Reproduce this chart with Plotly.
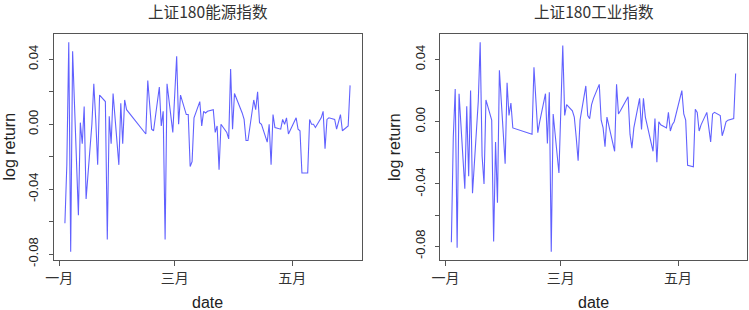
import pandas as pd
import plotly.graph_objects as go

# ---- data ----
dates = [
    "2016-01-04", "2016-01-05", "2016-01-06", "2016-01-07", "2016-01-08",
    "2016-01-11", "2016-01-12", "2016-01-13", "2016-01-14", "2016-01-15",
    "2016-01-18", "2016-01-19", "2016-01-20", "2016-01-21", "2016-01-22",
    "2016-01-25", "2016-01-26", "2016-01-27", "2016-01-28", "2016-01-29",
    "2016-02-01", "2016-02-02", "2016-02-03", "2016-02-04", "2016-02-05",
    "2016-02-15", "2016-02-16", "2016-02-17", "2016-02-18", "2016-02-19",
    "2016-02-22", "2016-02-23", "2016-02-24", "2016-02-25", "2016-02-26",
    "2016-02-29", "2016-03-01", "2016-03-02", "2016-03-03", "2016-03-04",
    "2016-03-07", "2016-03-08", "2016-03-09", "2016-03-10", "2016-03-11",
    "2016-03-14", "2016-03-15", "2016-03-16", "2016-03-17", "2016-03-18",
    "2016-03-21", "2016-03-22", "2016-03-23", "2016-03-24", "2016-03-25",
    "2016-03-28", "2016-03-29", "2016-03-30", "2016-03-31", "2016-04-01",
    "2016-04-05", "2016-04-06", "2016-04-07", "2016-04-08", "2016-04-11",
    "2016-04-12", "2016-04-13", "2016-04-14", "2016-04-15", "2016-04-18",
    "2016-04-19", "2016-04-20", "2016-04-21", "2016-04-22", "2016-04-25",
    "2016-04-26", "2016-04-27", "2016-04-28", "2016-04-29", "2016-05-03",
    "2016-05-04", "2016-05-05", "2016-05-06", "2016-05-09", "2016-05-10",
    "2016-05-11", "2016-05-12", "2016-05-13", "2016-05-16", "2016-05-17",
    "2016-05-18", "2016-05-19", "2016-05-20", "2016-05-23", "2016-05-24",
    "2016-05-25", "2016-05-26", "2016-05-27", "2016-05-30", "2016-05-31",
]

energy = [
    -0.061, -0.025, 0.0505, -0.0785, 0.045,
    -0.056, 0.001, -0.012, 0.011, -0.046,
    0.000, 0.025, 0.003, -0.025, 0.018,
    0.014, -0.071, 0.005, -0.012, 0.019,
    -0.025, 0.013, -0.012, 0.015, 0.009,
    -0.006, 0.027, 0.011, -0.003, -0.004,
    0.023, -0.001, 0.008, -0.071, 0.025,
    -0.005, 0.020, 0.042, 0.000, 0.018,
    0.006, 0.006, -0.026, -0.023, 0.004,
    0.014, -0.001, 0.008, 0.007, 0.008,
    0.009, -0.005, -0.001, -0.028, 0.000,
    -0.005, -0.009, 0.034, -0.003, 0.019,
    0.007, 0.003, -0.010, -0.010, 0.015,
    0.009, 0.020, 0.001, 0.000, -0.011,
    0.000, -0.025, 0.006, -0.002, -0.003,
    0.003, 0.000, 0.004, -0.006, 0.004,
    -0.003, -0.004, -0.030, -0.030, 0.003,
    0.000, 0.000, -0.002, 0.004, 0.008,
    -0.015, 0.003, 0.004, 0.003, -0.003,
    0.001, 0.006, -0.004, -0.001, 0.024,
]

industry = [
    -0.0775, -0.010, 0.021, -0.081, 0.018,
    -0.043, 0.010, -0.035, 0.020, -0.046,
    0.013, 0.051, -0.022, -0.040, 0.014,
    0.001, -0.077, -0.013, -0.052, 0.033,
    -0.027, 0.025, 0.004, 0.012, -0.004,
    -0.008, 0.035, 0.014, -0.007, 0.000,
    0.018, -0.014, 0.019, -0.0835, 0.005,
    -0.033, 0.012, 0.049, 0.004, 0.011,
    0.007, 0.003, -0.010, -0.025, 0.001,
    0.023, 0.004, 0.002, 0.011, 0.015,
    0.024, 0.001, -0.004, -0.016, 0.003,
    -0.012, -0.019, 0.024, 0.005, 0.007,
    0.016, -0.008, -0.017, -0.004, 0.015,
    -0.005, 0.015, 0.003, -0.002, -0.019,
    0.002, -0.026, 0.000, -0.002, -0.004,
    0.006, -0.006, -0.002, 0.000, 0.020,
    0.005, 0.001, -0.028, -0.029, 0.008,
    0.006, -0.006, -0.002, 0.006, -0.004,
    -0.013, 0.005, 0.006, 0.004, -0.009,
    -0.005, 0.000, 0.001, 0.002, 0.031,
]

titles = ["上证180能源指数", "上证180工业指数"]
month_ticks = ["2016-01-01", "2016-03-01", "2016-05-01"]
month_labels = ["一月", "三月", "五月"]
y_ticks = [-0.08, -0.06, -0.04, -0.02, 0.00, 0.02, 0.04]
y_labels = ["-0.08", "", "-0.04", "", "0.00", "", "0.04"]
x_title = "date"
y_title = "log return"

# ---- R-like axis ranges (4% extension) ----
def r_range(vals):
    lo, hi = min(vals), max(vals)
    d = (hi - lo) * 0.04
    return [lo - d, hi + d]

t = pd.to_datetime(pd.Series(dates))
span = t.max() - t.min()
x_range = [(t.min() - span * 0.04).strftime("%Y-%m-%d %H:%M:%S"),
           (t.max() + span * 0.04).strftime("%Y-%m-%d %H:%M:%S")]

W, H = 749, 310
ML, MR, MT, MB = 53, 2, 34, 50
PW = W - ML - MR
PH = H - MT - MB
dom1 = [0.5 / PW, 308.5 / PW]
dom2 = [(440 - ML) / PW, 1.0]

AX = "#555555"
LINE = "rgba(0,0,255,0.62)"

fig = go.Figure()
fig.add_trace(go.Scatter(x=dates, y=energy, mode="lines",
                         line=dict(color=LINE, width=1.1), xaxis="x", yaxis="y",
                         showlegend=False, hoverinfo="x+y"))
fig.add_trace(go.Scatter(x=dates, y=industry, mode="lines",
                         line=dict(color=LINE, width=1.1), xaxis="x2", yaxis="y2",
                         showlegend=False, hoverinfo="x+y"))

def xaxis(dom, anchor):
    return dict(domain=dom, anchor=anchor, type="date", range=x_range,
                tickmode="array", tickvals=month_ticks, ticktext=month_labels,
                ticks="outside", ticklen=5, tickcolor=AX, tickwidth=1,
                showline=True, linecolor=AX, linewidth=1, mirror=True,
                showgrid=False, zeroline=False,
                tickfont=dict(family="Noto Sans CJK SC", size=14, color="#333333"))

def yaxis(vals, anchor):
    return dict(anchor=anchor, domain=[0, 1], range=r_range(vals),
                tickmode="array", tickvals=y_ticks, ticktext=y_labels,
                tickangle=-90, ticks="outside", ticklen=4, tickcolor=AX, tickwidth=1,
                ticklabelstandoff=5,
                showline=True, linecolor=AX, linewidth=1, mirror=True,
                showgrid=False, zeroline=False,
                tickfont=dict(family="Liberation Sans", size=13, color="#222222"))

def px_x(p):
    return (p - ML) / PW

def px_y(p):
    return (H - MB - p) / PH

ann = []
for i, (dom, tt) in enumerate([(dom1, titles[0]), (dom2, titles[1])]):
    cx = (dom[0] + dom[1]) / 2
    ann.append(dict(text=tt, x=cx, y=px_y(11), xref="paper", yref="paper",
                    xanchor="center", yanchor="middle", showarrow=False,
                    font=dict(family="Noto Sans CJK SC", size=15.6, color="#333333")))
    ann.append(dict(text=x_title, x=cx, y=px_y(302), xref="paper", yref="paper",
                    xanchor="center", yanchor="middle", showarrow=False,
                    font=dict(family="Liberation Sans", size=16, color="#222222")))
for xp in (8.5, 394):
    ann.append(dict(text=y_title, x=px_x(xp), y=0.5, xref="paper", yref="paper",
                    xanchor="center", yanchor="middle", showarrow=False, textangle=-90,
                    font=dict(family="Liberation Sans", size=16, color="#222222")))

fig.update_layout(
    width=W, height=H, margin=dict(l=ML, r=MR, t=MT, b=MB, autoexpand=False),
    paper_bgcolor="white", plot_bgcolor="white",
    xaxis=xaxis(dom1, "y"), yaxis=yaxis(energy, "x"),
    xaxis2=xaxis(dom2, "y2"), yaxis2=yaxis(industry, "x2"),
    annotations=ann, showlegend=False,
)

fig.write_html("out.html", config={"displayModeBar": False},
               post_script="document.body.style.margin='0';document.body.style.overflow='hidden';")
